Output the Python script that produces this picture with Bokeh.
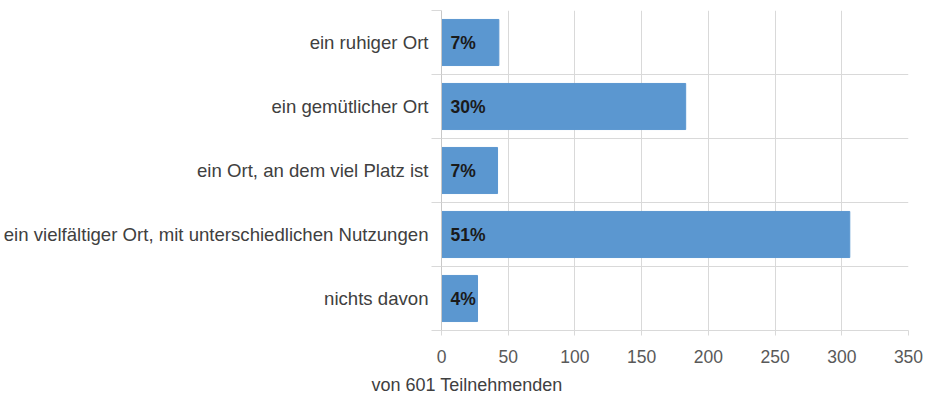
from bokeh.plotting import figure
from bokeh.models import Range1d, LinearAxis, FixedTicker, Title, ColumnDataSource
from bokeh.core.properties import value
from bokeh.embed import file_html
from bokeh.resources import INLINE

categories = ["ein ruhiger Ort", "ein gemütlicher Ort", "ein Ort, an dem viel Platz ist",
              "ein vielfältiger Ort, mit unterschiedlichen Nutzungen", "nichts davon"]
counts = [43, 183, 42, 306, 27]
pct_labels = ["7%", "30%", "7%", "51%", "4%"]
x_ticks = [0, 50, 100, 150, 200, 250, 300, 350]
note = "von 601 Teilnehmenden"

FONT = "Liberation Sans"
GRID = "#d9d9d9"

ncat = len(categories)
# position of each category band centre (first category on top)
ypos = [ncat - i - 0.5 for i in range(ncat)]
bounds = list(range(ncat + 1))

src = ColumnDataSource(dict(y=ypos, n=counts, lab=pct_labels, zero=[0] * ncat))

p = figure(width=928, height=405, output_backend="svg", toolbar_location=None,
           y_range=Range1d(0, ncat), x_range=Range1d(0, 350),
           x_axis_location="below", y_axis_location=None,
           min_border_left=440, min_border_right=20, min_border_top=10, min_border_bottom=75)
p.outline_line_color = None

# grids
p.xgrid.ticker = FixedTicker(ticks=x_ticks)
p.xgrid.grid_line_color = GRID

# x axis
xa = p.xaxis[0]
xa.ticker = FixedTicker(ticks=x_ticks)
xa.axis_line_color = GRID
xa.major_tick_line_color = GRID
xa.major_tick_out = 5
xa.major_tick_in = 0
xa.minor_tick_line_color = None
xa.major_label_text_font = FONT
xa.major_label_text_font_size = "17.5px"
xa.major_label_text_color = "#595959"
xa.major_label_standoff = 14

# category axis: labels at band centres, minor ticks at band boundaries
ca = LinearAxis(ticker=FixedTicker(ticks=ypos, minor_ticks=bounds),
                major_label_overrides={float(y): c for y, c in zip(ypos, categories)},
                axis_line_color="#c8c8c8", major_tick_line_color=None, major_tick_out=0,
                major_tick_in=0, minor_tick_line_color=GRID, minor_tick_out=10,
                minor_tick_in=0, major_label_standoff=3,
                major_label_text_font=FONT, major_label_text_font_size="18.6px",
                major_label_text_color="#404040")
p.add_layout(ca, "left")

p.ygrid.ticker = FixedTicker(ticks=bounds)
p.ygrid.grid_line_color = GRID

p.hbar(y="y", right="n", left=0, height=0.72, source=src,
       fill_color="#5B97D0", line_color="#5B97D0")
p.text(x="zero", y="y", text="lab", source=src, x_offset=9,
       text_font=value(FONT), text_font_style="bold", text_font_size="17.5px",
       text_color="#1a1a1a", text_align="left", text_baseline="middle")

p.add_layout(Title(text=note, align="left", offset=-70, standoff=14,
                   text_font=FONT, text_font_size="18px", text_font_style="normal",
                   text_color="#404040"), "below")

open("out.html", "w").write(file_html(p, INLINE))
